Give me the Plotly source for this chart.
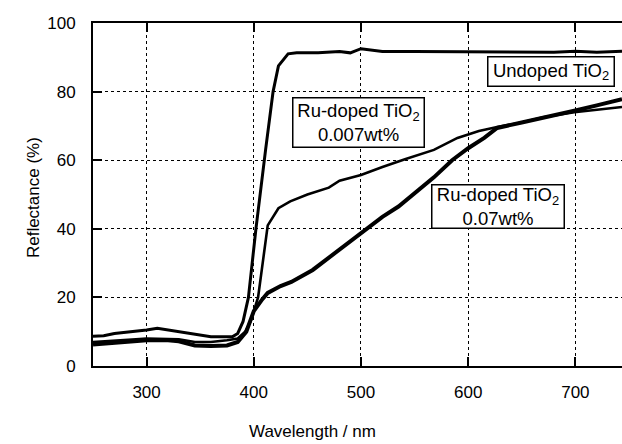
import plotly.graph_objects as go

# Wavelength (nm) and reflectance (%)
wl_undoped = [250, 260, 270, 280, 290, 300, 310, 320, 330, 340, 350, 360, 370, 380, 385, 390, 395,
              402, 411, 418, 423, 432, 440, 460, 480, 490, 500, 510, 520, 550, 600, 650, 680, 700, 720, 743.5]
r_undoped = [8.7, 8.8, 9.5, 9.8, 10.2, 10.5, 11.0, 10.5, 10.0, 9.5, 8.8, 8.5, 8.5, 8.5, 9.5, 13, 20,
             40, 63, 80, 87.5, 91, 91.3, 91.3, 91.7, 91.3, 92.5, 92.2, 91.7, 91.7, 91.7, 91.7, 91.5, 91.8, 91.5, 91.8]

wl_ru007 = [250, 270, 290, 300, 320, 330, 345, 360, 375, 385, 392, 397, 404, 408, 413, 423, 434,
            450, 470, 480, 500, 520, 541, 568, 590, 610, 627, 650, 670, 699, 720, 743.5]
r_ru007 = [7.0, 7.3, 7.8, 8.0, 8.0, 7.8, 7.0, 7.0, 7.5, 8.0, 10, 13, 20, 30, 41, 46, 48,
           50, 52, 54, 55.7, 58, 60.3, 63, 66.5, 68.5, 69.7, 71, 72.5, 74, 74.7, 75.5]

wl_ru07 = [250, 270, 290, 300, 320, 330, 345, 360, 375, 385, 393, 400, 408, 413, 425, 435, 455,
           470, 487, 500, 520, 535, 550, 568, 585, 600, 615, 627, 650, 670, 700, 720, 743.5]
r_ru07 = [6.3, 6.8, 7.3, 7.5, 7.5, 7.2, 6.0, 5.8, 6.0, 7.0, 10, 16, 19.5, 21.3, 23.3, 24.5, 28,
          31.5, 35.8, 38.5, 43.5, 46.5, 50.5, 55, 60, 63.5, 66.5, 69.4, 71, 72.3, 74.5, 76, 77.8]

x_ticks = [300, 400, 500, 600, 700]
y_ticks = [0, 20, 40, 60, 80, 100]

label_undoped = "Undoped TiO<sub>2</sub>"
label_ru007 = "Ru-doped TiO<sub>2</sub><br>0.007wt%"
label_ru07 = "Ru-doped TiO<sub>2</sub><br>0.07wt%"

FONT = "Liberation Sans, Arial, Helvetica, sans-serif"

fig = go.Figure()
fig.add_trace(go.Scatter(x=wl_ru007, y=r_ru007, mode="lines",
                         line=dict(color="black", width=2.6), showlegend=False))
fig.add_trace(go.Scatter(x=wl_ru07, y=r_ru07, mode="lines",
                         line=dict(color="black", width=4), showlegend=False))
fig.add_trace(go.Scatter(x=wl_undoped, y=r_undoped, mode="lines",
                         line=dict(color="black", width=3), showlegend=False))

box_style = dict(showarrow=False, bgcolor="white", bordercolor="black", borderwidth=1.5,
                 font=dict(family=FONT, size=18.5, color="black"), xref="x", yref="y")
fig.add_annotation(x=677.5, y=86, text=label_undoped, width=123, height=26, borderpad=1, **box_style)
fig.add_annotation(x=497.7, y=71.1, text=label_ru007, width=128, height=46, borderpad=1, **box_style)
fig.add_annotation(x=628, y=46.4, text=label_ru07, width=129, height=40, borderpad=1, **box_style)

fig.add_annotation(text="Reflectance (%)", xref="paper", yref="paper", x=-0.133, y=0.49,
                   textangle=-90, showarrow=False, font=dict(family=FONT, size=17, color="black"))
fig.add_annotation(text="Wavelength / nm", xref="paper", yref="paper", x=0.415, y=-0.19,
                   showarrow=False, font=dict(family=FONT, size=17, color="black"),
                   yanchor="middle")

fig.update_xaxes(range=[250, 743.5], tickvals=x_ticks, ticktext=[str(v) for v in x_ticks],
                 showgrid=True, gridcolor="black", griddash="dot", gridwidth=1,
                 showline=True, linecolor="black", linewidth=2, mirror="ticks",
                 ticks="inside", ticklen=9, tickwidth=1.5, tickcolor="black",
                 ticklabelstandoff=10,
                 tickfont=dict(family=FONT, size=17, color="black"), zeroline=False)
fig.update_yaxes(range=[0, 100], tickvals=y_ticks,
                 showgrid=True, gridcolor="black", griddash="dot", gridwidth=1,
                 showline=True, linecolor="black", linewidth=2, mirror=False,
                 ticks="inside", ticklen=9, tickwidth=1.5, tickcolor="black",
                 ticklabelstandoff=12,
                 tickfont=dict(family=FONT, size=17, color="black"), zeroline=False)

fig.update_layout(width=622, height=444, margin=dict(l=93, r=0, t=23, b=78),
                  plot_bgcolor="white", paper_bgcolor="white", showlegend=False)

fig.write_html("out.html", config={"displayModeBar": False},
               post_script="document.body.style.margin='0';document.body.style.overflow='hidden';")
